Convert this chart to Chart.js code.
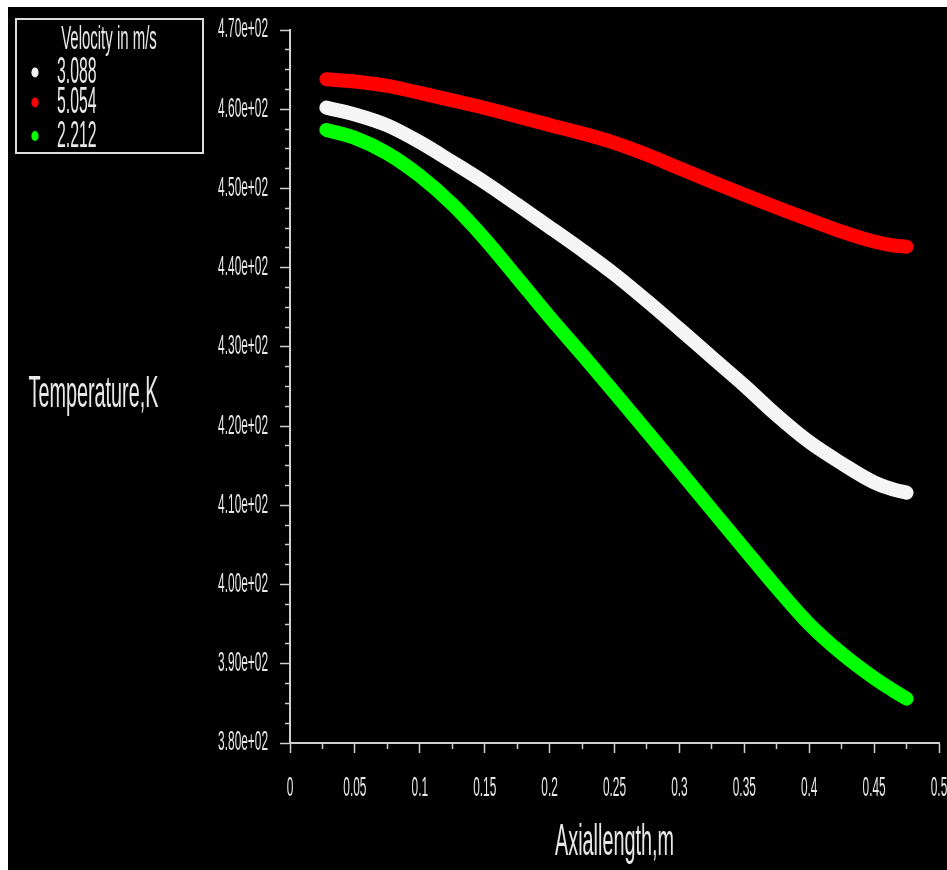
<!DOCTYPE html>
<html><head><meta charset="utf-8">
<script src="https://cdn.jsdelivr.net/npm/chart.js@4.4.1/dist/chart.umd.min.js"></script>
<style>
html,body{margin:0;padding:0;background:#fff;width:947px;height:870px;overflow:hidden}
#c{position:absolute;left:8px;top:7px;background:#000}
</style></head><body>
<canvas id="c" width="939" height="863"></canvas>
<script>
// ---- data ----
const axialLength = [0.028, 0.05, 0.075, 0.1, 0.125, 0.15, 0.175, 0.2, 0.225, 0.25, 0.275, 0.3, 0.325, 0.35, 0.375, 0.4, 0.425, 0.45, 0.465, 0.475];
const temp3088 = [460.20, 459.34, 457.96, 455.84, 453.35, 450.77, 447.96, 445.11, 442.21, 439.17, 435.80, 432.27, 428.69, 425.13, 421.37, 418.00, 415.30, 412.90, 412.00, 411.60];
const temp5054 = [463.78, 463.51, 462.94, 462.06, 461.12, 460.16, 459.09, 458.02, 456.95, 455.75, 454.25, 452.55, 450.85, 449.20, 447.60, 446.05, 444.55, 443.30, 442.80, 442.65];
const temp2212 = [457.39, 456.38, 454.43, 451.59, 448.00, 443.64, 438.73, 433.78, 429.05, 424.20, 419.33, 414.41, 409.43, 404.50, 399.60, 395.00, 391.30, 388.20, 386.60, 385.60];
const seriesLabels = ['3.088', '5.054', '2.212'];
const seriesValues = [temp3088, temp5054, temp2212];
const seriesColors = ['#f5f5f5', '#ff0000', '#00ff00'];
const legendTitle = 'Velocity in m/s';
const xTickValues = [0, 0.05, 0.1, 0.15, 0.2, 0.25, 0.3, 0.35, 0.4, 0.45, 0.5];
const xTickLabels = ['0', '0.05', '0.1', '0.15', '0.2', '0.25', '0.3', '0.35', '0.4', '0.45', '0.5'];
const yTickValues = [380, 390, 400, 410, 420, 430, 440, 450, 460, 470];
const yTickLabels = ['3.80e+02', '3.90e+02', '4.00e+02', '4.10e+02', '4.20e+02', '4.30e+02', '4.40e+02', '4.50e+02', '4.60e+02', '4.70e+02'];
const xAxisTitle = 'Axiallength,m';
const yAxisTitle = 'Temperature,K';

// ---- styling ----
const FONT = '"Liberation Sans", Arial, sans-serif';
const SX = 0.44;               // condensed text look
const axisColor = '#cfcfcf';
const textColor = '#e8e8e8';

const canvas = document.getElementById('c');
const ctx = canvas.getContext('2d');
ctx.fillText = function (text, x, y, maxWidth) {
  this.save();
  this.translate(x, y);
  this.scale(SX, 1);
  const f = CanvasRenderingContext2D.prototype.fillText;
  if (maxWidth !== undefined && maxWidth !== null) f.call(this, text, 0, 0, maxWidth / SX);
  else f.call(this, text, 0, 0);
  this.restore();
};

function findIdx(arr, v) { return arr.findIndex(a => Math.abs(a - v) < 1e-6); }

const overlay = {
  id: 'overlay',
  afterDraw(chart) {
    const c = chart.ctx;
    c.save();
    c.fillStyle = textColor;
    c.textBaseline = 'middle';
    c.textAlign = 'center';
    c.font = '45px ' + FONT;
    c.fillText(yAxisTitle, 85.5, 388);
    // legend box
    c.strokeStyle = '#dcdcdc';
    c.lineWidth = 2;
    c.strokeRect(8, 12, 187, 134);
    c.font = '34px ' + FONT;
    c.fillText(legendTitle, 101, 33);
    c.textAlign = 'left';
    c.font = '36px ' + FONT;
    const rows = [65.5, 95.5, 129];
    chart.data.datasets.forEach((ds, i) => {
      c.fillStyle = ds.borderColor;
      c.beginPath();
      c.ellipse(27, rows[i], 3.6, 5, 0, 0, Math.PI * 2);
      c.fill();
      c.fillStyle = textColor;
      c.fillText(ds.label, 49, rows[i] + 1);
    });
    c.restore();
  }
};

new Chart(ctx, {
  type: 'line',
  data: {
    datasets: seriesLabels.map((lab, i) => ({
      label: lab,
      data: axialLength.map((x, j) => ({ x: x, y: seriesValues[i][j] })),
      borderColor: seriesColors[i],
      backgroundColor: seriesColors[i],
      borderWidth: 14,
      borderCapStyle: 'round',
      borderJoinStyle: 'round',
      pointRadius: 0,
      cubicInterpolationMode: 'monotone',
      fill: false
    }))
  },
  options: {
    responsive: false,
    animation: false,
    devicePixelRatio: 1,
    layout: { padding: { top: 23, right: 8, bottom: 0, left: 0 } },
    plugins: { legend: { display: false }, tooltip: { enabled: false } },
    scales: {
      x: {
        type: 'linear', min: 0, max: 0.5,
        afterFit(s) { s.height = 127; s.paddingLeft = 0; s.paddingRight = 0; },
        border: { display: true, color: axisColor, width: 2 },
        grid: {
          drawOnChartArea: false, drawTicks: true, tickLength: 10,
          tickColor: axisColor, tickWidth: 1.5,
          tickBorderDash: (c) => (c.tick && findIdx(xTickValues, c.tick.value) >= 0) ? [] : [5, 100]
        },
        ticks: {
          stepSize: 0.025, autoSkip: false, maxRotation: 0, minRotation: 0,
          padding: 19, color: textColor, font: { family: FONT, size: 27 },
          callback: (v) => { const i = findIdx(xTickValues, v); return i >= 0 ? xTickLabels[i] : ''; }
        },
        title: { display: true, text: xAxisTitle, color: textColor, font: { family: FONT, size: 45 }, padding: { top: 0, bottom: 0 } }
      },
      y: {
        type: 'linear', min: 380, max: 470,
        afterFit(s) { s.width = 282; s.paddingTop = 0; s.paddingBottom = 0; },
        border: { display: true, color: axisColor, width: 2 },
        grid: {
          drawOnChartArea: false, drawTicks: true, tickLength: 10,
          tickColor: axisColor, tickWidth: 1.5,
          tickBorderDash: (c) => (c.tick && findIdx(yTickValues, c.tick.value) >= 0) ? [] : [0, 5, 5, 100]
        },
        ticks: {
          stepSize: 2.5, autoSkip: false,
          padding: 12, color: textColor, font: { family: FONT, size: 27 },
          callback: (v) => { const i = findIdx(yTickValues, v); return i >= 0 ? yTickLabels[i] : ''; }
        }
      }
    }
  },
  plugins: [overlay]
});
</script>
</body></html>
